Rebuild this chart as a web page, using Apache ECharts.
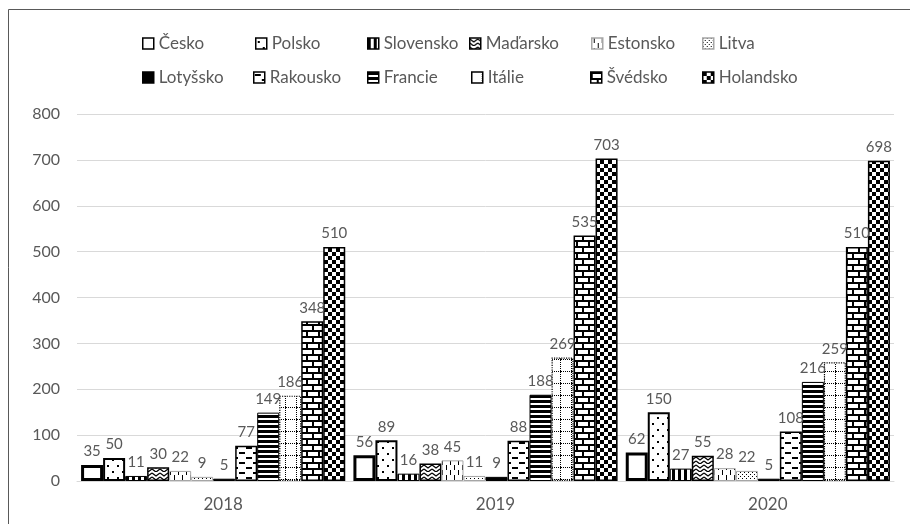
<!DOCTYPE html>
<html lang="cs">
<head>
    <meta charset="UTF-8">
    <title>Graf</title>
    <script src="https://cdn.jsdelivr.net/npm/echarts@6/dist/echarts.min.js"></script>
    <style>
        html, body { margin: 0; padding: 0; background: #fff; }
        #main { width: 910px; height: 524px; }
    </style>
</head>
<body>
    <div id="main"></div>
    <script>
        // data
        var years = ['2018', '2019', '2020'];
        var countries = ['Česko', 'Polsko', 'Slovensko', 'Maďarsko', 'Estonsko', 'Litva',
                         'Lotyšsko', 'Rakousko', 'Francie', 'Itálie', 'Švédsko', 'Holandsko'];
        var cesko     = [35, 56, 62];
        var polsko    = [50, 89, 150];
        var slovensko = [11, 16, 27];
        var madarsko  = [30, 38, 55];
        var estonsko  = [22, 45, 28];
        var litva     = [9, 11, 22];
        var lotyssko  = [5, 9, 5];
        var rakousko  = [77, 88, 108];
        var francie   = [149, 188, 216];
        var italie    = [186, 269, 259];
        var svedsko   = [348, 535, 510];
        var holandsko = [510, 703, 698];
        var values = [cesko, polsko, slovensko, madarsko, estonsko, litva,
                      lotyssko, rakousko, francie, italie, svedsko, holandsko];

        var font = 'Lato, "Open Sans", sans-serif';
        var grey = '#595959';

        // canvas patterns
        function pat(w, h, draw) {
            var c = document.createElement('canvas');
            c.width = w; c.height = h;
            var g = c.getContext('2d');
            g.fillStyle = '#fff';
            g.fillRect(0, 0, w, h);
            g.fillStyle = '#000';
            g.strokeStyle = '#000';
            draw(g);
            return { image: c, repeat: 'repeat' };
        }

        var styles = [
            { color: '#fff', borderColor: '#000', borderWidth: 3 },
            { color: pat(10, 12, function (g) { g.fillRect(2, 3, 2, 2); g.fillRect(7, 9, 2, 2); }), borderColor: '#000', borderWidth: 2 },
            { color: pat(6, 4, function (g) { g.fillRect(0, 0, 3, 4); }), borderColor: '#000', borderWidth: 1 },
            { color: pat(8, 8, function (g) {
                g.lineWidth = 1.3;
                g.beginPath(); g.moveTo(0, 1); g.lineTo(4, 4); g.lineTo(8, 1); g.stroke();
                g.beginPath(); g.moveTo(0, 5); g.lineTo(4, 8); g.lineTo(8, 5); g.stroke();
            }), borderColor: '#000', borderWidth: 1.5 },
            { color: pat(8, 10, function (g) { g.fillRect(2, 0, 1, 5); g.fillRect(6, 5, 1, 5); }), borderColor: '#a6a6a6', borderWidth: 1 },
            { color: pat(4, 4, function (g) { g.fillRect(0, 0, 1, 1); g.fillRect(2, 2, 1, 1); }), borderColor: '#a6a6a6', borderWidth: 1 },
            { color: '#000', borderColor: '#000', borderWidth: 1 },
            { color: pat(14, 10, function (g) { g.fillRect(1, 2, 6, 2); g.fillRect(8, 7, 6, 2); }), borderColor: '#000', borderWidth: 1.5 },
            { color: pat(4, 5, function (g) { g.fillRect(0, 0, 4, 3); }), borderColor: '#000', borderWidth: 1 },
            { color: pat(11, 12, function (g) {
                for (var i = 0; i < 12; i += 2) g.fillRect(10, i, 1, 1);
                for (var j = 0; j < 11; j += 2) g.fillRect(j, 11, 1, 1);
            }), borderColor: '#000', borderWidth: 1.2, borderType: 'dotted' },
            { color: pat(12, 12, function (g) {
                g.fillRect(0, 0, 12, 2); g.fillRect(0, 6, 12, 2);
                g.fillRect(0, 2, 2, 4); g.fillRect(6, 8, 2, 4);
            }), borderColor: '#000', borderWidth: 1.5 },
            { color: pat(8, 8, function (g) { g.fillRect(0, 0, 4, 4); g.fillRect(4, 4, 4, 4); }), borderColor: '#000', borderWidth: 1.5 }
        ];

        // legend slots (two rows of six)
        var legendLeft = [137, 250, 362, 464, 586, 697, 137, 248, 362, 466, 585, 697];
        var legends = countries.map(function (name, i) {
            return {
                data: [name],
                left: legendLeft[i],
                top: i < 6 ? 30 : 64,
                itemWidth: 11,
                itemHeight: 11,
                icon: 'rect',
                selectedMode: false,
                itemStyle: { borderWidth: 1.5 },
                textStyle: { fontFamily: font, fontSize: 17, color: grey }
            };
        });

        var series = countries.map(function (name, i) {
            return {
                name: name,
                type: 'bar',
                data: values[i],
                barGap: '0%',
                barCategoryGap: '3%',
                itemStyle: styles[i],
                label: {
                    show: true,
                    position: 'top',
                    distance: 6,
                    color: grey,
                    fontFamily: font,
                    fontSize: 15
                }
            };
        });

        var chart = echarts.init(document.getElementById('main'));
        chart.setOption({
            animation: false,
            backgroundColor: '#fff',
            graphic: [{
                type: 'rect',
                shape: { x: 8.5, y: 9.5, width: 920, height: 530 },
                style: { fill: 'none', stroke: grey, lineWidth: 1 },
                silent: true
            }],
            legend: legends,
            grid: { left: 77, right: 16, top: 114, bottom: 43 },
            xAxis: {
                type: 'category',
                data: years,
                axisLine: { lineStyle: { color: '#d9d9d9', width: 1 } },
                axisTick: { show: false },
                axisLabel: {
                    color: grey, fontFamily: font, fontSize: 17, margin: 15,
                    padding: [0, 0, 0, 20]
                }
            },
            yAxis: {
                type: 'value',
                min: 0,
                max: 800,
                interval: 100,
                axisLine: { show: false },
                axisTick: { show: false },
                splitLine: { lineStyle: { color: '#d9d9d9', width: 1 } },
                axisLabel: { color: grey, fontFamily: font, fontSize: 16, margin: 17 }
            },
            series: series
        });
    </script>
</body>
</html>
